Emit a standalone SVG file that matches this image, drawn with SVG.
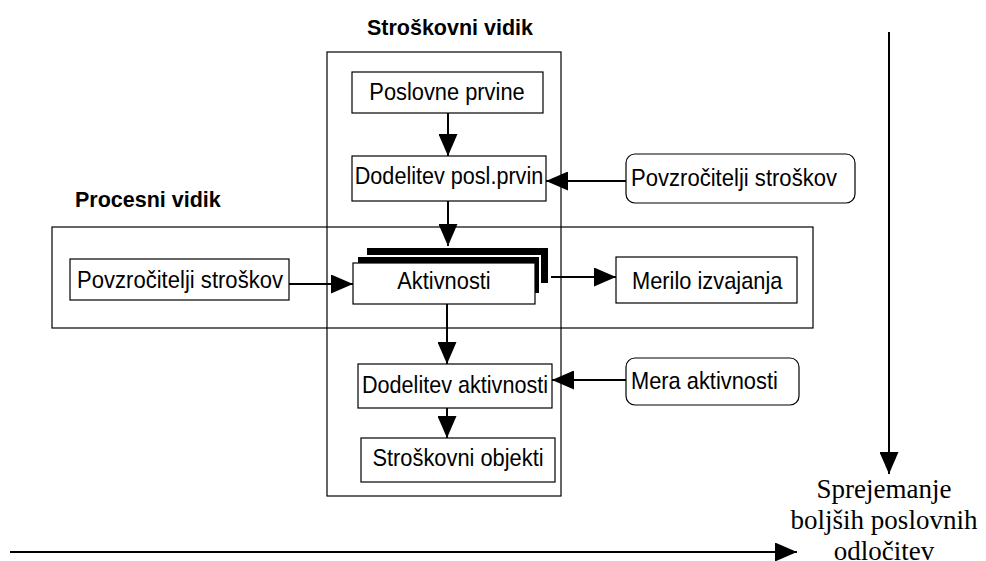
<svg xmlns="http://www.w3.org/2000/svg" width="986" height="561" viewBox="0 0 986 561">
  <style>
    .frame { fill: none; stroke: #000; stroke-width: 1.2; }
    .box { fill: #fff; stroke: #000; stroke-width: 1.2; }
    .lbl { font-family: "Liberation Sans", Arial, sans-serif; font-size: 24px; fill: #000; }
    .mid { text-anchor: middle; }
    .title { font-family: "Liberation Sans", Arial, sans-serif; font-size: 21.5px; font-weight: bold; fill: #000; }
    .serif { font-family: "Liberation Serif", "Times New Roman", serif; font-size: 27px; fill: #000; text-anchor: middle; }
    .link { fill: none; stroke: #000; stroke-width: 2; marker-end: url(#head); }
  </style>
  <defs>
    <marker id="head" viewBox="0 0 22 19" refX="22" refY="9.5" markerWidth="22" markerHeight="19" markerUnits="userSpaceOnUse" orient="auto">
      <path d="M0,0 L22,9.5 L0,19 z" fill="#000"/>
    </marker>
  </defs>

  <rect width="986" height="561" fill="#fff"/>

  <!-- view frames -->
  <g id="cost-view">
    <rect class="frame" x="327" y="52" width="234" height="444"/>
    <text class="title" x="450" y="35" text-anchor="middle">Stroškovni vidik</text>
  </g>
  <g id="process-view">
    <rect class="frame" x="52" y="227" width="761" height="101"/>
    <text class="title" x="75" y="207">Procesni vidik</text>
  </g>

  <!-- connectors -->
  <g id="connectors">
    <line class="link" x1="448" y1="113" x2="448" y2="156"/>
    <line class="link" x1="626" y1="181" x2="546" y2="181"/>
    <line class="link" x1="448" y1="201" x2="448" y2="246"/>
    <line class="link" x1="289" y1="284" x2="353" y2="284"/>
    <line class="link" x1="551" y1="277" x2="616" y2="277"/>
    <line class="link" x1="447" y1="304" x2="447" y2="364"/>
    <line class="link" x1="626" y1="380" x2="552" y2="380"/>
    <line class="link" x1="447" y1="408" x2="447" y2="438"/>
    <line class="link" x1="889" y1="32" x2="889" y2="474"/>
    <line class="link" x1="10" y1="552" x2="797" y2="552"/>
  </g>

  <!-- nodes (labels use a slightly condensed sans) -->
  <g id="poslovne-prvine">
    <rect class="box" x="352" y="72" width="191" height="41"/>
    <text class="lbl mid" transform="translate(447 100) scale(0.91 1)">Poslovne prvine</text>
  </g>
  <g id="dodelitev-posl-prvin">
    <rect class="box" x="352" y="156" width="194" height="45"/>
    <text class="lbl mid" transform="translate(449 184) scale(0.9 1)">Dodelitev posl.prvin</text>
  </g>
  <g id="povzrocitelji-stroskov-desno">
    <rect class="box" x="626" y="154" width="229" height="49" rx="9"/>
    <text class="lbl" transform="translate(631 186) scale(0.92 1)">Povzročitelji stroškov</text>
  </g>
  <g id="povzrocitelji-stroskov-levo">
    <rect class="box" x="70" y="259" width="219" height="41"/>
    <text class="lbl" transform="translate(77 288) scale(0.92 1)">Povzročitelji stroškov</text>
  </g>
  <g id="aktivnosti">
    <rect x="366" y="247" width="183" height="37" fill="#000" stroke="#fff" stroke-width="2"/>
    <rect x="357" y="256" width="183" height="38" fill="#000" stroke="#fff" stroke-width="2"/>
    <rect class="box" x="353" y="263" width="182" height="41"/>
    <text class="lbl mid" transform="translate(444 289) scale(0.91 1)">Aktivnosti</text>
  </g>
  <g id="merilo-izvajanja">
    <rect class="box" x="616" y="257" width="181" height="46"/>
    <text class="lbl" transform="translate(632 289) scale(0.91 1)">Merilo izvajanja</text>
  </g>
  <g id="dodelitev-aktivnosti">
    <rect class="box" x="358" y="364" width="194" height="44"/>
    <text class="lbl mid" transform="translate(455 393) scale(0.9 1)">Dodelitev aktivnosti</text>
  </g>
  <g id="mera-aktivnosti">
    <rect class="box" x="626" y="358" width="173" height="47" rx="9"/>
    <text class="lbl" transform="translate(631 389) scale(0.91 1)">Mera aktivnosti</text>
  </g>
  <g id="stroskovni-objekti">
    <rect class="box" x="361" y="438" width="194" height="44"/>
    <text class="lbl mid" transform="translate(458 466) scale(0.91 1)">Stroškovni objekti</text>
  </g>
  <g id="odlocitve">
    <text class="serif" x="884" y="498">Sprejemanje</text>
    <text class="serif" x="884" y="529">boljših poslovnih</text>
    <text class="serif" x="884" y="560">odločitev</text>
  </g>
</svg>
